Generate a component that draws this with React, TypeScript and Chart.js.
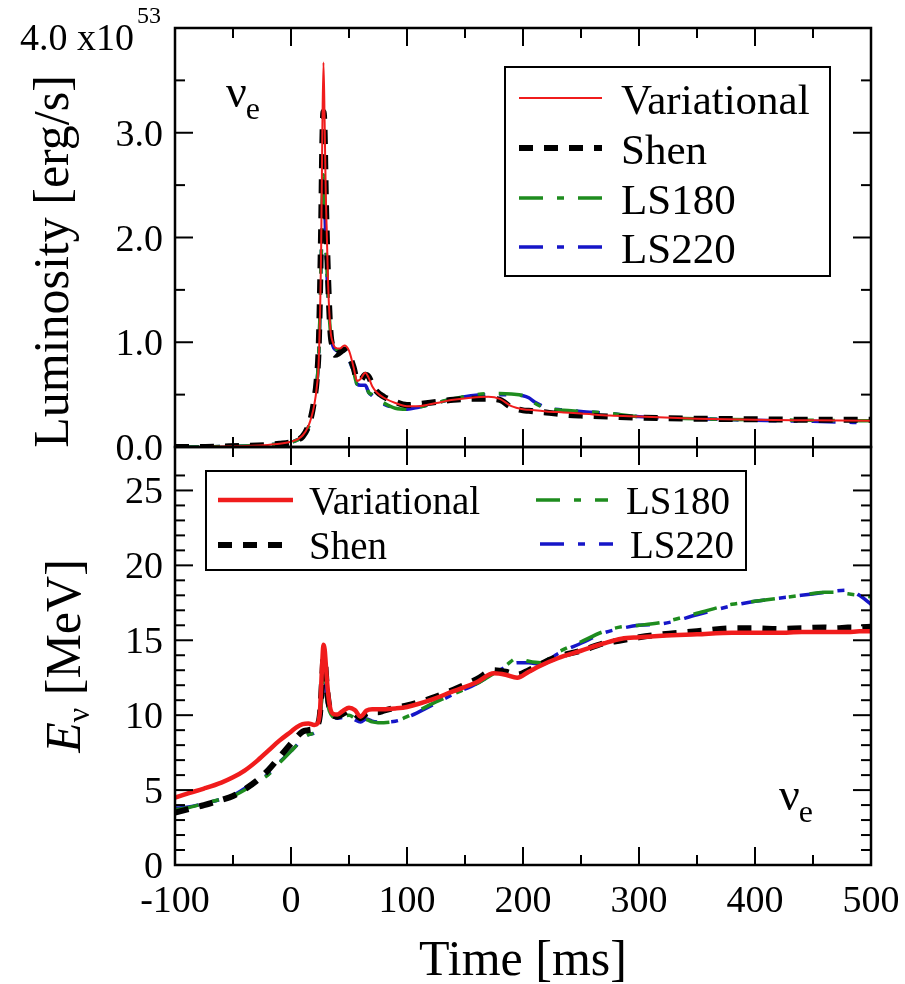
import React, { useEffect, useRef } from 'react';
import { Chart, registerables } from 'chart.js';

Chart.register(...registerables);

// ---------- DATA ----------
const lumTime = [
  -100, -80, -60, -40, -20, -10,
  0, 5, 10, 15, 18,
  20, 22, 24, 26, 27,
  28, 29, 30, 32, 34,
  36, 38, 42, 46, 50,
  54, 57, 60, 64, 67,
  70, 74, 80, 90, 100,
  110, 125, 140, 155, 170,
  180, 190, 200, 205, 210,
  215, 220, 235, 250, 275,
  300, 350, 400, 450, 500,
];
const lumVariational = [
  0.0, 0.0, 0.005, 0.01, 0.02, 0.03,
  0.05, 0.07, 0.11, 0.2, 0.3,
  0.4, 0.55, 0.85, 1.9, 3.0,
  3.67, 3.1, 2.4, 1.55, 1.12,
  1.0, 0.95, 0.94, 0.97, 0.92,
  0.76, 0.63, 0.65, 0.71, 0.66,
  0.58, 0.52, 0.47, 0.42, 0.39,
  0.39, 0.42, 0.45, 0.47, 0.48,
  0.46, 0.39, 0.36, 0.355, 0.35,
  0.345, 0.34, 0.33, 0.32, 0.3,
  0.29, 0.27, 0.26, 0.255, 0.25,
];
const lumShen = [
  0.0, 0.0, 0.005, 0.01, 0.02, 0.03,
  0.045, 0.065, 0.1, 0.2, 0.32,
  0.45, 0.62, 1.0, 2.1, 2.9,
  3.2, 3.0, 2.4, 1.6, 1.1,
  0.95, 0.88, 0.9, 0.93, 0.88,
  0.76, 0.64, 0.64, 0.69, 0.67,
  0.6, 0.53, 0.48, 0.43, 0.4,
  0.41, 0.43, 0.45, 0.46, 0.46,
  0.45, 0.38, 0.35, 0.345, 0.34,
  0.335, 0.33, 0.31, 0.3, 0.29,
  0.28, 0.27, 0.265, 0.26, 0.26,
];
const lumLS180 = [
  0.0, 0.0, 0.005, 0.01, 0.02, 0.03,
  0.045, 0.065, 0.1, 0.19, 0.3,
  0.42, 0.58, 0.9, 1.8, 2.4,
  2.6, 2.4, 2.0, 1.45, 1.1,
  0.98, 0.94, 0.92, 0.9, 0.84,
  0.72, 0.6, 0.6, 0.6, 0.52,
  0.5, 0.46, 0.42, 0.37, 0.36,
  0.38, 0.42, 0.46, 0.49, 0.51,
  0.51, 0.505, 0.49, 0.46, 0.42,
  0.39, 0.37, 0.35, 0.34, 0.32,
  0.29, 0.27, 0.26, 0.255, 0.25,
];
const lumLS220 = [
  0.0, 0.0, 0.005, 0.01, 0.02, 0.03,
  0.045, 0.065, 0.1, 0.19, 0.3,
  0.42, 0.58, 0.9, 1.75, 2.3,
  2.5, 2.35, 1.95, 1.42, 1.08,
  0.97, 0.93, 0.91, 0.89, 0.83,
  0.71, 0.6, 0.59, 0.59, 0.52,
  0.49, 0.45, 0.41, 0.37, 0.36,
  0.38, 0.42, 0.46, 0.49, 0.5,
  0.5, 0.5, 0.49, 0.47, 0.43,
  0.4, 0.375, 0.355, 0.34, 0.32,
  0.29, 0.27, 0.255, 0.245, 0.23,
];

const energyTime = [
  -100, -90, -75, -60, -50,
  -40, -30, -20, -10, 0,
  5, 10, 15, 20, 23,
  25, 27, 28, 29, 31,
  33, 36, 40, 45, 50,
  55, 60, 65, 70, 75,
  80, 90, 100, 120, 140,
  160, 175, 185, 195, 205,
  215, 230, 250, 270, 285,
  300, 320, 350, 380, 400,
  420, 440, 460, 470, 480,
  490, 500,
];
const energyVariational = [
  4.5, 4.75, 5.1, 5.5, 5.85,
  6.3, 6.9, 7.6, 8.3, 8.9,
  9.2, 9.4, 9.45, 9.35, 9.45,
  10.3, 13.6, 14.7, 14.4, 12.3,
  10.8, 10.1, 10.05, 10.3, 10.5,
  10.35, 9.9, 10.3, 10.4, 10.4,
  10.4, 10.45, 10.55, 11.0, 11.6,
  12.2, 12.8, 12.7, 12.5, 12.9,
  13.3, 13.8, 14.3, 14.8, 15.1,
  15.2, 15.3, 15.4, 15.5, 15.5,
  15.5, 15.55, 15.55, 15.55, 15.55,
  15.6, 15.6,
];
const energyShen = [
  3.5, 3.7, 4.0, 4.35, 4.6,
  5.05, 5.6, 6.3, 7.2, 8.1,
  8.55, 8.9, 9.0, 9.1, 9.35,
  10.1, 12.6, 13.8, 13.7, 11.8,
  10.6, 10.0, 9.9, 10.1, 10.3,
  10.1, 9.8, 10.1, 10.2, 10.2,
  10.3, 10.5, 10.65, 11.1, 11.7,
  12.4, 13.0, 12.9, 12.7, 13.0,
  13.4, 13.9, 14.3, 14.8, 15.0,
  15.2, 15.4, 15.6, 15.8, 15.8,
  15.75, 15.8, 15.85, 15.8, 15.85,
  15.85, 15.9,
];
const energyLS180 = [
  3.7, 3.8, 4.1, 4.4, 4.6,
  5.0, 5.5, 6.0, 6.8, 7.6,
  8.0, 8.45, 8.7, 8.8, 9.0,
  9.8, 11.5, 12.4, 12.3, 11.0,
  10.3, 9.9, 9.8, 9.9, 10.0,
  9.8, 9.6, 9.7, 9.55, 9.5,
  9.5, 9.6, 9.9, 10.7, 11.4,
  12.1, 12.8, 13.3, 13.8, 13.6,
  13.5, 14.2, 14.9, 15.6, 15.9,
  16.0, 16.2, 16.8, 17.4, 17.6,
  17.8, 18.0, 18.2, 18.2, 18.1,
  18.0, 17.9,
];
const energyLS220 = [
  3.8, 3.85, 4.1, 4.4, 4.65,
  5.1, 5.55, 6.05, 6.85, 7.6,
  8.0, 8.45, 8.7, 8.8, 9.0,
  9.7, 11.8, 12.8, 12.6, 11.0,
  10.2, 9.85, 9.8, 9.85, 9.95,
  9.7, 9.55, 9.75, 9.6, 9.55,
  9.55, 9.6, 9.85, 10.6, 11.4,
  12.1, 12.8, 13.2, 13.5, 13.5,
  13.4, 14.1, 14.8, 15.5, 15.8,
  16.0, 16.1, 16.7, 17.3, 17.6,
  17.8, 18.0, 18.2, 18.3, 18.35,
  18.0, 17.4,
];

const seriesNames = ['Variational', 'Shen', 'LS180', 'LS220'];
const timeTickValues = [-100, 0, 100, 200, 300, 400, 500];
const lumTickValues = [0, 1, 2, 3];
const lumTickLabels = ['0.0', '1.0', '2.0', '3.0'];
const lumTopLabel = '4.0 x10';
const lumTopExponent = '53';
const energyTickValues = [0, 5, 10, 15, 20, 25];

// ---------- STYLES ----------
const FONT = '"Liberation Serif", "Times New Roman", Times, serif';
const RED = '#f01c1c';
const BLACK = '#000000';
const GREEN = '#1e8c1e';
const BLUE = '#1616c8';
const DASH_SHEN = [14, 11];
const DASH_DOT = [24, 14, 7, 14];

const lumStyles = [
  { color: RED, width: 2, dash: [] as number[] },
  { color: BLACK, width: 6, dash: DASH_SHEN },
  { color: GREEN, width: 3.5, dash: DASH_DOT },
  { color: BLUE, width: 3.5, dash: DASH_DOT },
];
const energyStyles = [
  { color: RED, width: 4.5, dash: [] as number[] },
  { color: BLACK, width: 6, dash: DASH_SHEN },
  { color: GREEN, width: 3.5, dash: DASH_DOT },
  { color: BLUE, width: 3.5, dash: DASH_DOT },
];

const zip = (xs: number[], ys: number[]) => xs.map((x, i) => ({ x, y: ys[i] }));

function line(ctx: CanvasRenderingContext2D, x1: number, y1: number, x2: number, y2: number) {
  ctx.beginPath();
  ctx.moveTo(x1, y1);
  ctx.lineTo(x2, y2);
  ctx.stroke();
}

function legendSample(ctx: CanvasRenderingContext2D, x1: number, x2: number, y: number, st: { color: string; width: number; dash: number[] }) {
  ctx.save();
  ctx.strokeStyle = st.color;
  ctx.lineWidth = st.width;
  ctx.setLineDash(st.dash);
  ctx.lineCap = 'butt';
  line(ctx, x1, y, x2, y);
  ctx.restore();
}

const decorPlugin = {
  id: 'decor',
  afterDraw(chart: any) {
    const ctx: CanvasRenderingContext2D = chart.ctx;
    const xs = chart.scales.x;
    const yL = chart.scales.yL;
    const yE = chart.scales.yE;
    const L = xs.left;
    const R = xs.right;
    ctx.save();
    ctx.strokeStyle = '#000';
    ctx.fillStyle = '#000';
    ctx.lineCap = 'butt';
    ctx.setLineDash([]);

    // frames + ticks
    const MAJ = 18;
    const MIN = 10;
    for (const ys of [yL, yE]) {
      ctx.lineWidth = 2.5;
      ctx.strokeRect(L, ys.top, R - L, ys.bottom - ys.top);
      ctx.lineWidth = 2;
      for (const t of xs.ticks) {
        const v = t.value;
        const px = xs.getPixelForValue(v);
        const len = v % 100 === 0 ? MAJ : MIN;
        line(ctx, px, ys.top, px, ys.top + len);
        line(ctx, px, ys.bottom, px, ys.bottom - len);
      }
    }
    for (const t of yL.ticks) {
      const v = t.value;
      if (v > 4) continue;
      const py = yL.getPixelForValue(v);
      const len = Number.isInteger(v) ? MAJ : MIN;
      line(ctx, L, py, L + len, py);
      line(ctx, R, py, R - len, py);
    }
    for (const t of yE.ticks) {
      const v = t.value;
      if (!Number.isInteger(v)) continue;
      const py = yE.getPixelForValue(v);
      const len = v % 5 === 0 ? MAJ : MIN;
      line(ctx, L, py, L + len, py);
      line(ctx, R, py, R - len, py);
    }

    // tick labels
    ctx.font = `38px ${FONT}`;
    ctx.textAlign = 'right';
    ctx.textBaseline = 'alphabetic';
    lumTickValues.forEach((v, i) => {
      ctx.fillText(lumTickLabels[i], L - 12, yL.getPixelForValue(v) + 13);
    });
    const topY = yL.getPixelForValue(4);
    ctx.fillText(lumTopLabel, L - 41, topY + 22);
    ctx.font = `24px ${FONT}`;
    ctx.textAlign = 'left';
    ctx.fillText(lumTopExponent, L - 38, topY - 5);

    ctx.font = `38px ${FONT}`;
    ctx.textAlign = 'right';
    energyTickValues.forEach((v) => {
      ctx.fillText(String(v), L - 12, yE.getPixelForValue(v) + 13);
    });
    ctx.textAlign = 'center';
    timeTickValues.forEach((v) => {
      ctx.fillText(String(v), xs.getPixelForValue(v), xs.top + 47);
    });

    // x title
    ctx.font = `50px ${FONT}`;
    ctx.fillText('Time [ms]', (L + R) / 2, xs.top + 110);

    // y titles
    ctx.save();
    ctx.translate(68, (yL.top + yL.bottom) / 2 + 24);
    ctx.rotate(-Math.PI / 2);
    ctx.textAlign = 'center';
    ctx.font = `50px ${FONT}`;
    ctx.fillText('Luminosity [erg/s]', 0, 0);
    ctx.restore();

    ctx.save();
    ctx.translate(80, (yE.top + yE.bottom) / 2);
    ctx.rotate(-Math.PI / 2);
    ctx.textAlign = 'left';
    const fE = `italic 50px ${FONT}`;
    const fNu = `32px ${FONT}`;
    const fR = `50px ${FONT}`;
    ctx.font = fE; const wE = ctx.measureText('E').width;
    ctx.font = fNu; const wNu = ctx.measureText('\u03bd').width;
    ctx.font = fR; const wR = ctx.measureText(' [MeV]').width;
    let sx = -(wE + wNu + wR) / 2;
    ctx.font = fE; ctx.fillText('E', sx, 0); sx += wE;
    ctx.font = fNu; ctx.fillText('\u03bd', sx, 9); sx += wNu;
    ctx.font = fR; ctx.fillText(' [MeV]', sx, 0);
    ctx.restore();

    // nu_e labels
    const nuLabel = (x: number, y: number) => {
      ctx.textAlign = 'left';
      ctx.font = `46px ${FONT}`;
      ctx.fillText('\u03bd', x, y);
      const w = ctx.measureText('\u03bd').width;
      ctx.font = `32px ${FONT}`;
      ctx.fillText('e', x + w - 1, y + 12);
    };
    nuLabel(L + 51, yL.top + 79);
    nuLabel(L + 604, yE.bottom - 55);

    // top legend
    ctx.lineWidth = 2;
    ctx.strokeRect(505, 67, 325, 209);
    const topRows = [98, 148, 198, 247];
    seriesNames.forEach((name, i) => {
      legendSample(ctx, 519, 602, topRows[i], lumStyles[i]);
      ctx.font = `43px ${FONT}`;
      ctx.textAlign = 'left';
      ctx.fillStyle = '#000';
      ctx.fillText(name, 621, topRows[i] + 16);
    });

    // bottom legend
    ctx.lineWidth = 2;
    ctx.strokeStyle = '#000';
    ctx.strokeRect(206, 471, 540, 99);
    const botPos = [
      { x1: 218, x2: 293, y: 500, tx: 309 },
      { x1: 218, x2: 293, y: 545, tx: 309 },
      { x1: 536, x2: 608, y: 500, tx: 626 },
      { x1: 540, x2: 613, y: 544, tx: 630 },
    ];
    seriesNames.forEach((name, i) => {
      const p = botPos[i];
      legendSample(ctx, p.x1, p.x2, p.y, energyStyles[i]);
      ctx.font = `39px ${FONT}`;
      ctx.textAlign = 'left';
      ctx.fillStyle = '#000';
      ctx.fillText(name, p.tx, p.y + 14);
    });

    ctx.restore();
  },
};

export default function App() {
  const ref = useRef<HTMLCanvasElement | null>(null);
  useEffect(() => {
    if (!ref.current) return;
    const lumSeries = [lumVariational, lumShen, lumLS180, lumLS220];
    const energySeries = [energyVariational, energyShen, energyLS180, energyLS220];
    const datasets: any[] = [];
    seriesNames.forEach((name, i) => {
      datasets.push({
        label: name,
        data: zip(lumTime, lumSeries[i]),
        xAxisID: 'x',
        yAxisID: 'yL',
        borderColor: lumStyles[i].color,
        borderWidth: lumStyles[i].width,
        borderDash: lumStyles[i].dash,
        pointRadius: 0,
        fill: false,
        cubicInterpolationMode: 'monotone',
        order: i,
      });
    });
    seriesNames.forEach((name, i) => {
      datasets.push({
        label: name,
        data: zip(energyTime, energySeries[i]),
        xAxisID: 'x',
        yAxisID: 'yE',
        borderColor: energyStyles[i].color,
        borderWidth: energyStyles[i].width,
        borderDash: energyStyles[i].dash,
        pointRadius: 0,
        fill: false,
        cubicInterpolationMode: 'monotone',
        order: i,
      });
    });
    const chart = new Chart(ref.current, {
      type: 'line',
      data: { datasets },
      options: {
        animation: false,
        responsive: false,
        maintainAspectRatio: false,
        devicePixelRatio: 1,
        layout: { padding: { left: 0, right: 34, top: 28, bottom: 0 } },
        plugins: { legend: { display: false }, tooltip: { enabled: false }, title: { display: false } },
        scales: {
          x: {
            type: 'linear',
            position: 'bottom',
            min: -100,
            max: 500,
            grid: { display: false },
            border: { display: false },
            ticks: { display: false, stepSize: 50 },
            afterFit: (s: any) => { s.height = 119; },
          },
          yE: {
            type: 'linear',
            position: 'left',
            stack: 'panels',
            stackWeight: 418,
            min: 0,
            max: 27.9,
            grid: { display: false },
            border: { display: false },
            ticks: { display: false, stepSize: 1 },
            afterFit: (s: any) => { s.width = 175; },
          },
          yL: {
            type: 'linear',
            position: 'left',
            stack: 'panels',
            stackWeight: 419,
            min: 0,
            max: 4,
            grid: { display: false },
            border: { display: false },
            ticks: { display: false, stepSize: 0.5 },
            afterFit: (s: any) => { s.width = 175; },
          },
        },
      } as any,
      plugins: [decorPlugin],
    });
    return () => chart.destroy();
  }, []);
  return (
    <div style={{ position: 'absolute', left: 0, top: 0, width: 905, height: 984, background: '#fff' }}>
      <canvas ref={ref} width={905} height={984} style={{ display: 'block', width: 905, height: 984 }} />
    </div>
  );
}
